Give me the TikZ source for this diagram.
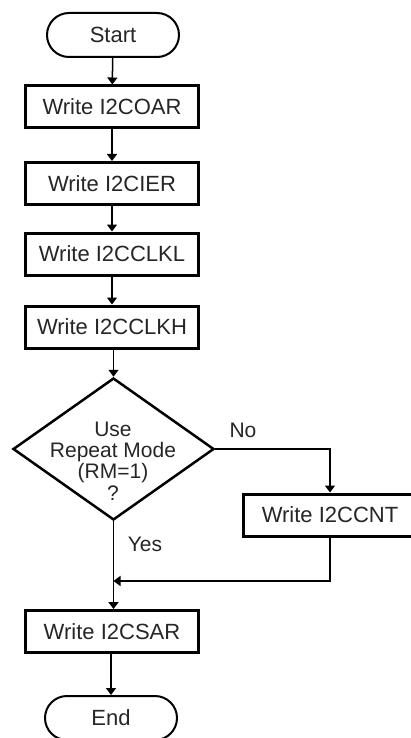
\documentclass[tikz,border=0pt]{standalone}
\usepackage{fontspec}
\setmainfont{Liberation Sans}
\usetikzlibrary{arrows.meta,shapes.geometric,shapes.misc}
\begin{document}
\begin{tikzpicture}[x=1pt,y=-1pt,
  every node/.style={font=\fontsize{22}{24}\selectfont, inner sep=0pt, text=black!85},
  term/.style={draw, line width=2pt, rounded rectangle, minimum width=132pt, minimum height=44pt},
  proc/.style={draw, line width=3pt, rectangle, minimum width=173pt, minimum height=42pt},
  dec/.style={draw, line width=2.5pt, diamond, minimum width=201pt, minimum height=142pt},
  dectext/.style={align=center, font=\fontsize{21}{21.3}\selectfont},
  lbl/.style={font=\fontsize{21}{24}\selectfont},
  flow/.style={line width=1.5pt, -{Triangle[width=10pt,length=7pt]}}]
\clip (0,0) rectangle (411,738);
\fill[white] (0,0) rectangle (411,738);

% main column
\node[term] (start) at (113,35) {Start};
\node[proc] (b1) at (112,107) {Write I2COAR};
\node[proc] (b2) at (112,183.5) {Write I2CIER};
\node[proc] (b3) at (112,254) {Write I2CCLKL};
\node[proc] (b4) at (112,327) {Write I2CCLKH};
\node[dec] (q) at (113.5,449) {};
\node[dectext] (qtext) at (113,461) {Use\\Repeat Mode\\(RM=1)\\?};
\node[proc] (cnt) at (330,515) {Write I2CCNT};
\node[proc] (sar) at (112,631.5) {Write I2CSAR};
\node[term] (end) at (111,718) {End};

% branch labels
\node[lbl] (no) at (243,430) {No};
\node[lbl] (yes) at (145,544) {Yes};

% connectors
\coordinate (mrg) at (113.5,581);
\draw[flow] (start) -- (b1);
\draw[flow] (b1) -- (b2);
\draw[flow] (b2) -- (b3);
\draw[flow] (b3) -- (b4);
\draw[flow] (b4.south -| q.north) -- (q.north);
\draw[flow] (q.east) -| (cnt.north);
\draw[flow] (q.south) -- (q.south |- sar.north);
\draw[flow] (cnt.south) |- (mrg);
\draw[flow] (sar.south -| end.north) -- (end.north);
\end{tikzpicture}
\end{document}
